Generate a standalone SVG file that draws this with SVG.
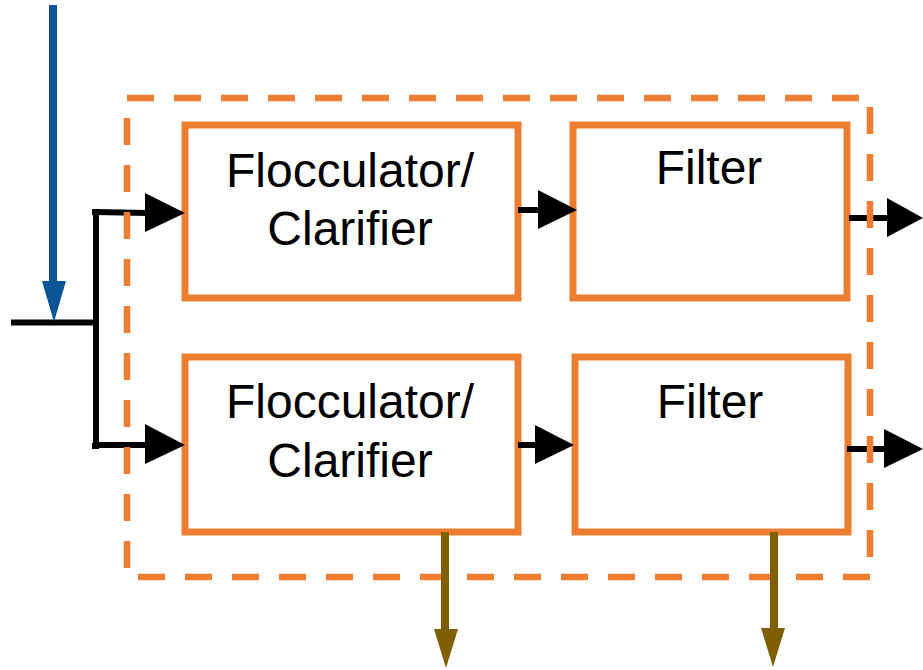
<svg xmlns="http://www.w3.org/2000/svg" width="923" height="670" viewBox="0 0 923 670">
  <style>
    .box { fill: #ffffff; stroke: #ED7D31; stroke-width: 7; }
    .group { fill: none; stroke: #ED7D31; stroke-width: 6.5; stroke-dasharray: 27 20; }
    .label { font-family: "Liberation Sans", Arial, sans-serif; font-size: 48px; fill: #000000; text-anchor: middle; }
    .flow { fill: none; stroke: #000000; stroke-width: 6; }
    .head { fill: #000000; }
    .waste { stroke: #7F5F00; stroke-width: 8; }
    .waste-head { fill: #7F5F00; }
  </style>

  <g id="floc1">
    <rect class="box" x="185" y="125" width="333" height="173"/>
    <text class="label" x="350" y="187">Flocculator/</text>
    <text class="label" x="350" y="245">Clarifier</text>
  </g>
  <g id="filter1">
    <rect class="box" x="573" y="125" width="274" height="173"/>
    <text class="label" x="709" y="184">Filter</text>
  </g>
  <g id="floc2">
    <rect class="box" x="185" y="357" width="333" height="175"/>
    <text class="label" x="350" y="418">Flocculator/</text>
    <text class="label" x="350" y="477">Clarifier</text>
  </g>
  <g id="filter2">
    <rect class="box" x="575" y="357" width="273" height="175"/>
    <text class="label" x="710" y="418">Filter</text>
  </g>

  <g id="connectors">
    <!-- raw water inlet and splitter -->
    <line class="flow" x1="11" y1="322.5" x2="96" y2="322.5" stroke-width="5"/>
    <polyline class="flow" points="92,212 96,212 96,446 92,446" stroke-width="6"/>
    <polyline class="flow" points="96,212 147,213"/>
    <polygon class="head" points="145,193 185,213 145,232"/>
    <polyline class="flow" points="96,445 147,445"/>
    <polygon class="head" points="145,424 185,445 145,464"/>

    <!-- chemical feed -->
    <line x1="53" y1="5" x2="53" y2="284" stroke="#0B5496" stroke-width="8"/>
    <polygon points="42,281 66,281 54,322" fill="#0B5496"/>

    <!-- clarifier to filter -->
    <line class="flow" x1="518" y1="210" x2="540" y2="210"/>
    <polygon class="head" points="538,190 577,210 538,229"/>
    <line class="flow" x1="518" y1="445" x2="537" y2="445"/>
    <polygon class="head" points="535,425 574,445 535,464"/>

    <!-- filtered water out -->
    <line class="flow" x1="849" y1="218" x2="889" y2="218" stroke-width="7"/>
    <polygon class="head" points="887,198 923,218 887,237"/>
    <line class="flow" x1="847" y1="449" x2="886" y2="449" stroke-width="7"/>
    <polygon class="head" points="884,429 923,449 884,468"/>
  </g>

  <!-- treatment train boundary, drawn over the flow lines -->
  <rect id="train" class="group" x="127" y="98" width="743" height="479"/>

  <g id="residuals">
    <!-- sludge and backwash out -->
    <line class="waste" x1="445" y1="532" x2="445" y2="632"/>
    <polygon class="waste-head" points="434,629 458,629 446,668"/>
    <line class="waste" x1="774" y1="532" x2="774" y2="631"/>
    <polygon class="waste-head" points="761,628 785,628 773,667"/>
  </g>
</svg>
